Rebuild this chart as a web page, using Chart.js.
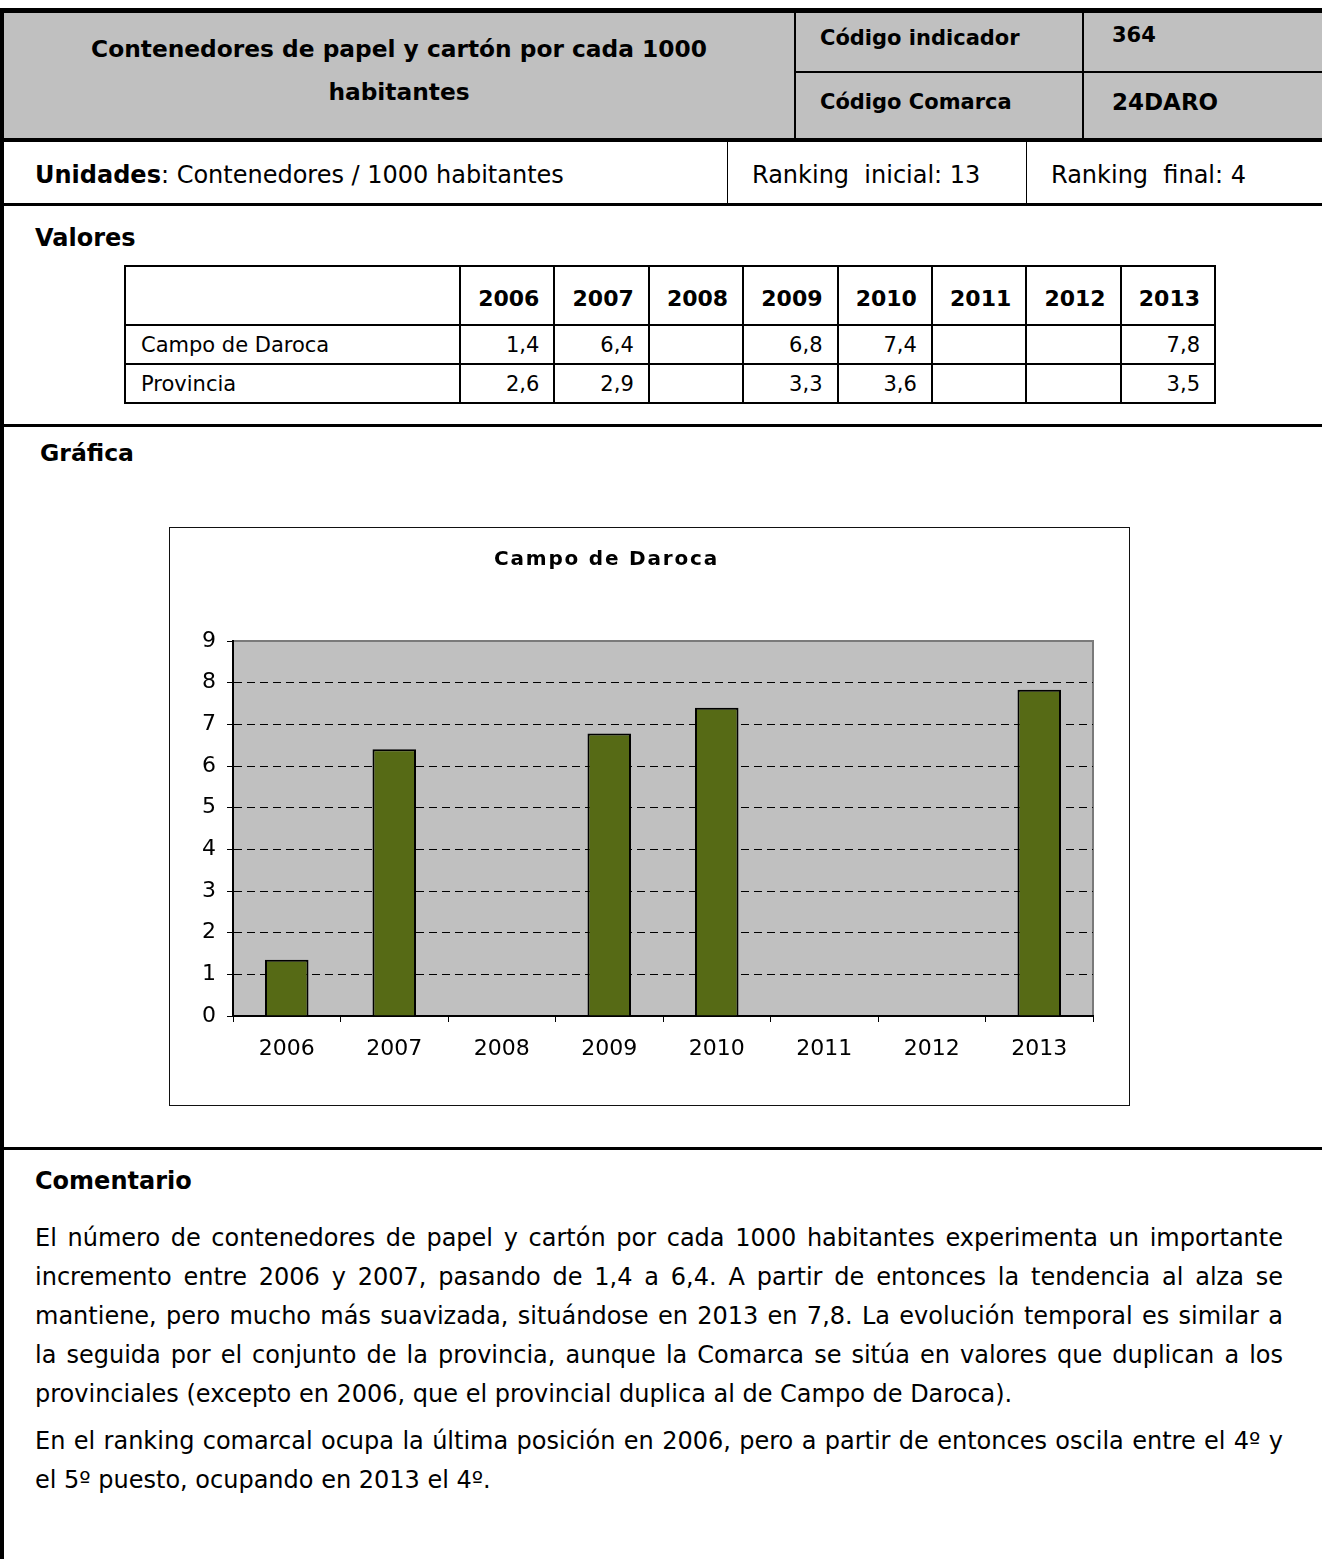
<!DOCTYPE html>
<html>
<head>
<meta charset="utf-8">
<script src="https://cdn.jsdelivr.net/npm/chart.js@4.4.1/dist/chart.umd.min.js"></script>
<style>
  body { margin: 0; background: #fff; width: 1322px; height: 1559px; overflow: hidden; position: relative;
         font-family: "DejaVu Sans", Verdana, sans-serif; font-size: 24px; color: #000; }
  .a { position: absolute; }
  .line { position: absolute; background: #000; }
  .b { font-weight: bold; }
  .t { position: absolute; line-height: 30px; white-space: nowrap; }
  .s21 { font-size: 21px; }
  .pl { position: absolute; left: 35px; width: 1248px; line-height: 39px; text-align: justify; text-align-last: justify; white-space: nowrap; }
  .pl.last { text-align-last: left; }
  #valTable { position: absolute; left: 124px; top: 265px; width: 1092px; border-collapse: collapse; table-layout: fixed; }
  #valTable td { border: 2px solid #000; padding: 0 14px 0 15px; font-size: 21px; }
  #valTable tr.h td { height: 51px; font-weight: bold; font-size: 22px; text-align: right; padding-top: 6px; }
  #valTable tr.r td { height: 37px; text-align: right; }
  #valTable tr.r td:first-child { text-align: left; }
  #chartBox { position: absolute; left: 169px; top: 527px; width: 961px; height: 579px; border: 1px solid #111; box-sizing: border-box; }
  #chartWrap { position: absolute; left: 170px; top: 528px; width: 959px; height: 577px; }
  #chartTitle { position: absolute; left: 494px; top: 545px; font-weight: bold; font-size: 20px; letter-spacing: 1.8px; line-height: 26px; white-space: nowrap; }
</style>
</head>
<body>

<!-- marco -->
<div class="line" style="left:0;top:8px;width:1322px;height:5px"></div>
<div class="line" style="left:0;top:8px;width:4px;height:1551px"></div>

<!-- cabecera -->
<div class="a" style="left:4px;top:13px;width:1318px;height:125px;background:#c0c0c0"></div>
<div class="line" style="left:794px;top:13px;width:2px;height:125px"></div>
<div class="line" style="left:1082px;top:13px;width:2px;height:125px"></div>
<div class="line" style="left:796px;top:71px;width:526px;height:2px"></div>
<div class="a b" style="left:4px;top:27px;width:790px;line-height:43px;text-align:center;font-size:23.3px">Contenedores de papel y cartón por cada 1000<br>habitantes</div>
<div class="t b s21" style="left:820px;top:23px">Código indicador</div>
<div class="t b s21" style="left:1112px;top:20px">364</div>
<div class="t b s21" style="left:820px;top:87px">Código Comarca</div>
<div class="t b" style="left:1112px;top:87px;font-size:23px">24DARO</div>
<div class="line" style="left:0;top:138px;width:1322px;height:4px"></div>

<!-- unidades -->
<div class="t" style="left:35px;top:160px"><b>Unidades</b>: Contenedores / 1000 habitantes</div>
<div class="line" style="left:727px;top:142px;width:1px;height:61px"></div>
<div class="t" style="left:752px;top:160px">Ranking&nbsp; inicial: 13</div>
<div class="line" style="left:1026px;top:142px;width:1px;height:61px"></div>
<div class="t" style="left:1051px;top:160px">Ranking&nbsp; final: 4</div>
<div class="line" style="left:0;top:203px;width:1322px;height:3px"></div>

<!-- valores -->
<div class="t b" style="left:35px;top:223px">Valores</div>
<table id="valTable"></table>
<div class="line" style="left:0;top:424px;width:1322px;height:3px"></div>

<!-- grafica -->
<div class="t b" style="left:40px;top:438px;font-size:23.5px">Gráfica</div>
<div id="chartBox"></div>
<div id="chartWrap"><canvas id="chart"></canvas></div>
<div id="chartTitle">Campo de Daroca</div>
<div class="line" style="left:0;top:1147px;width:1322px;height:3px"></div>

<!-- comentario -->
<div class="t b" style="left:35px;top:1166px">Comentario</div>
<div class="pl" style="top:1219px">El número de contenedores de papel y cartón por cada 1000 habitantes experimenta un importante</div>
<div class="pl" style="top:1258px">incremento entre 2006 y 2007, pasando de 1,4 a 6,4. A partir de entonces la tendencia al alza se</div>
<div class="pl" style="top:1297px">mantiene, pero mucho más suavizada, situándose en 2013 en 7,8. La evolución temporal es similar a</div>
<div class="pl" style="top:1336px">la seguida por el conjunto de la provincia, aunque la Comarca se sitúa en valores que duplican a los</div>
<div class="pl last" style="top:1375px">provinciales (excepto en 2006, que el provincial duplica al de Campo de Daroca).</div>
<div class="pl" style="top:1422px">En el ranking comarcal ocupa la última posición en 2006, pero a partir de entonces oscila entre el 4º y</div>
<div class="pl last" style="top:1461px">el 5º puesto, ocupando en 2013 el 4º.</div>

<script>
var years = ['2006', '2007', '2008', '2009', '2010', '2011', '2012', '2013'];
var darocaValues = [1.35, 6.4, null, 6.78, 7.4, null, null, 7.83];
// valores de la tabla
var darocaTable = ['1,4', '6,4', '', '6,8', '7,4', '', '', '7,8'];
var provinciaTable = ['2,6', '2,9', '', '3,3', '3,6', '', '', '3,5'];
var rowNames = ['Campo de Daroca', 'Provincia'];
var yMin = 0;
var yMax = 9;

function build_table() {
    var t = document.getElementById('valTable');
    var html = '<colgroup><col style="width:335px">';
    for (var i = 0; i < years.length; i++) html += '<col>';
    html += '</colgroup><tr class="h"><td></td>';
    for (var i = 0; i < years.length; i++) html += '<td>' + years[i] + '</td>';
    html += '</tr>';
    var rows = [darocaTable, provinciaTable];
    for (var r = 0; r < rows.length; r++) {
        html += '<tr class="r"><td>' + rowNames[r] + '</td>';
        for (var i = 0; i < rows[r].length; i++) html += '<td>' + rows[r][i] + '</td>';
        html += '</tr>';
    }
    t.innerHTML = html;
}
build_table();

Chart.defaults.font.family = '"DejaVu Sans", Verdana, sans-serif';
Chart.defaults.color = '#000';

// fondo gris del area de trazado y borde superior/derecho
var plotBg = {
    id: 'plotBg',
    beforeDraw: function(chart) {
        var a = chart.chartArea;
        var ctx = chart.ctx;
        ctx.save();
        ctx.fillStyle = '#c0c0c0';
        ctx.fillRect(a.left, a.top, a.right - a.left, a.bottom - a.top);
        ctx.strokeStyle = '#7a7a7a';
        ctx.lineWidth = 2;
        ctx.beginPath();
        ctx.moveTo(a.left, a.top);
        ctx.lineTo(a.right, a.top);
        ctx.lineTo(a.right, a.bottom);
        ctx.stroke();
        ctx.restore();
    }
};

new Chart(document.getElementById('chart'), {
    type: 'bar',
    data: {
        labels: years,
        datasets: [{
            label: 'Campo de Daroca',
            data: darocaValues,
            backgroundColor: '#566a15',
            borderColor: '#000',
            borderWidth: 2,
            barPercentage: 0.405,
            categoryPercentage: 1
        }]
    },
    options: {
        responsive: true,
        maintainAspectRatio: false,
        animation: false,
        layout: { padding: { top: 113, right: 36, bottom: 39, left: 0 } },
        plugins: {
            legend: { display: false },
            tooltip: { enabled: false },
            title: { display: false }
        },
        scales: {
            x: {
                ticks: { font: { size: 22 }, padding: 14, maxRotation: 0 },
                grid: { offset: true, drawOnChartArea: false, drawTicks: true, tickLength: 6, color: '#000', tickColor: '#000' },
                border: { color: '#000', width: 2 },
                afterFit: function(s) { s.height = 50; }
            },
            y: {
                min: yMin,
                max: yMax,
                ticks: { stepSize: 1, font: { size: 22 }, padding: 11 },
                grid: {
                    color: function(c) { return (c.tick.value === yMin || c.tick.value === yMax) ? 'rgba(0,0,0,0)' : '#000'; },
                    lineWidth: 1,
                    tickColor: '#000',
                    tickLength: 6
                },
                border: { color: '#000', width: 2, dash: [8, 5] },
                afterFit: function(s) { s.width = 63; }
            }
        }
    },
    plugins: [plotBg]
});
</script>
</body>
</html>
